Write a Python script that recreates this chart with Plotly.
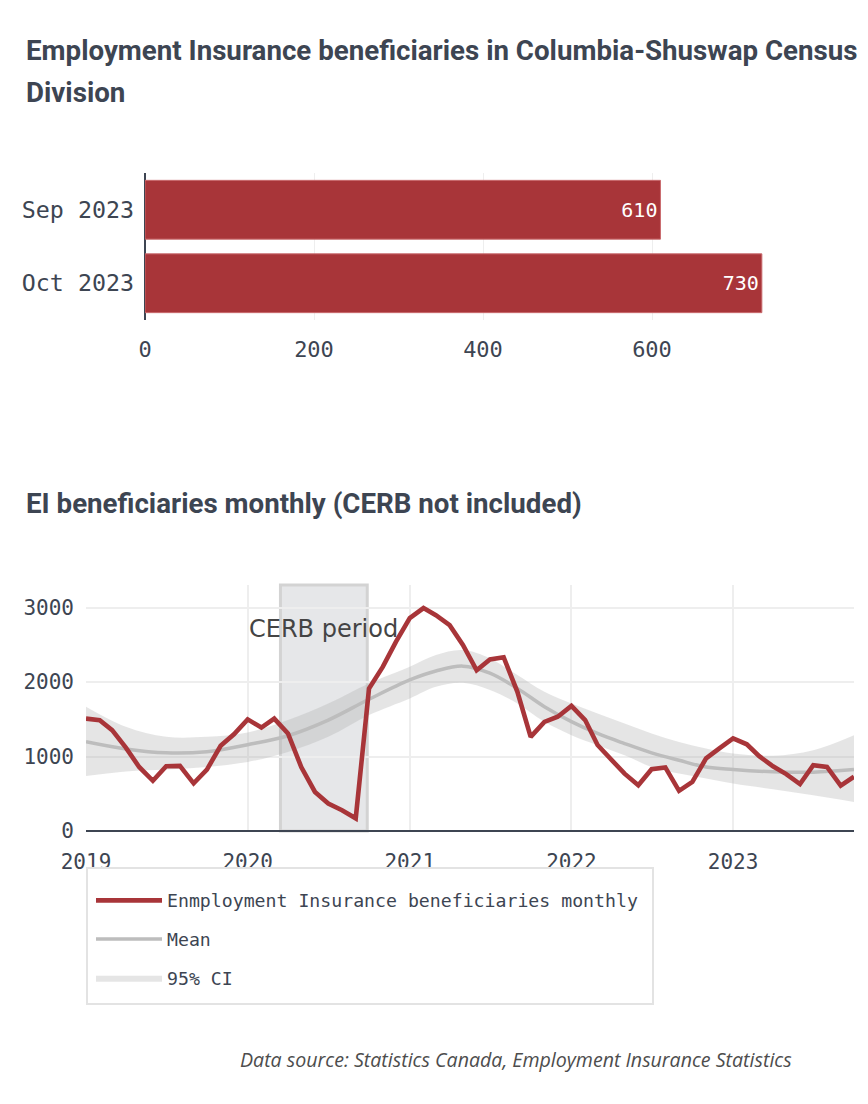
import plotly.graph_objects as go

W, H = 868, 1104
OFF = 8  # page body margin

# ---------------- data ----------------
bar_categories = ["Sep 2023", "Oct 2023"]
bar_values = [610, 730]

months = [f"{y}-{m:02d}-01" for y in range(2019, 2024) for m in range(1, 13)][:58]
ei_values = [
    1510, 1490, 1355, 1120, 860, 675, 870, 875, 640, 825, 1145, 1300,
    1500, 1390, 1510, 1310, 860, 525, 370, 280, 170, 1915, 2205, 2545,
    2860, 2995, 2900, 2765, 2500, 2160, 2305, 2335, 1870, 1265, 1465, 1535,
    1680, 1490, 1155, 950, 770, 615, 830, 855, 540, 660, 975, 1110,
    1245, 1165, 1005, 870, 765, 630, 885, 860, 610, 730,
]

trend_dates = [
    "2019-01-01", "2019-04-01", "2019-07-01", "2019-10-01",
    "2020-01-01", "2020-04-01", "2020-07-01", "2020-10-01",
    "2021-01-01", "2021-03-01", "2021-05-01", "2021-07-01", "2021-09-01", "2021-11-01",
    "2022-01-01", "2022-03-01", "2022-05-01", "2022-07-01", "2022-09-01", "2022-11-01",
    "2023-01-01", "2023-04-01", "2023-07-01", "2023-10-01",
]
mean_values = [
    1200, 1103, 1050, 1066,
    1160, 1280, 1490, 1770,
    2030, 2150, 2215, 2120, 1915, 1670,
    1470, 1310, 1175, 1050, 950, 860,
    826, 795, 790, 826,
]
ci_upper = [
    1670, 1400, 1265, 1265,
    1324, 1490, 1714, 1983,
    2206, 2364, 2431, 2319, 2095, 1870,
    1714, 1579, 1445, 1310, 1197, 1108,
    1041, 1012, 1086, 1288,
]
ci_lower = [
    740, 800, 826, 861,
    928, 1063, 1265, 1557,
    1781, 1937, 1991, 1893, 1714, 1467,
    1288, 1153, 1018, 861, 772, 705,
    637, 560, 480, 390,
]

cerb_start, cerb_end = "2020-03-15", "2020-09-27"
cerb_label_x, cerb_label_y = "2020-06-20", 2720

# ---------------- styles ----------------
RED = "#a83539"
TXT = "#3d4552"
GRID = "#eeeeee"
MONO = "DejaVu Sans Mono"
TITLE_FONT = "Roboto"

def px_x(p):
    return (p - OFF) / W

def px_y(p):
    return 1 - (p - OFF) / H

fig = go.Figure()

# Bar chart
fig.add_trace(go.Bar(
    x=bar_values, y=bar_categories, orientation="h",
    marker=dict(color=RED, line=dict(color="#c96a6d", width=1)),
    text=[str(v) for v in bar_values], textposition="inside",
    insidetextanchor="end",
    textfont=dict(family=MONO, size=20, color="white"),
    showlegend=False, hoverinfo="skip",
    xaxis="x", yaxis="y",
))

# Line chart: CI band
fig.add_trace(go.Scatter(
    x=trend_dates, y=ci_upper, mode="lines", line=dict(width=0, shape="spline"),
    showlegend=False, hoverinfo="skip", xaxis="x2", yaxis="y2",
))
fig.add_trace(go.Scatter(
    x=trend_dates, y=ci_lower, mode="lines", line=dict(width=0, shape="spline"),
    fill="tonexty", fillcolor="rgba(170,170,170,0.3)",
    name="95% CI", legendrank=3, legendgroup="c",
    hoverinfo="skip", xaxis="x2", yaxis="y2",
))
fig.add_trace(go.Scatter(
    x=trend_dates, y=mean_values, mode="lines",
    line=dict(color="#bdbdbd", width=3.5, shape="spline"),
    name="Mean", legendrank=2, legendgroup="b",
    xaxis="x2", yaxis="y2",
))
fig.add_trace(go.Scatter(
    x=months, y=ei_values, mode="lines",
    line=dict(color=RED, width=4.6),
    name="Enmployment Insurance beneficiaries monthly", legendrank=1, legendgroup="a",
    xaxis="x2", yaxis="y2",
))

tick_font = dict(family=MONO, size=23.3, color=TXT)
tick_font2 = dict(family=MONO, size=21, color=TXT)

fig.update_layout(
    width=W, height=H, autosize=False,
    margin=dict(l=0, r=0, t=0, b=0, pad=0, autoexpand=False),
    paper_bgcolor="white", plot_bgcolor="white",
    bargap=0.2,
    xaxis=dict(
        domain=[px_x(145), px_x(145 + 770 * 0.845)], range=[0, 770],
        tickvals=[0, 200, 400, 600], showgrid=True, gridcolor=GRID, gridwidth=1,
        zeroline=True, zerolinecolor=TXT, zerolinewidth=2,
        showline=False, ticks="", tickfont=dict(family=MONO, size=22, color=TXT),
        ticklabelstandoff=14,
        anchor="y", fixedrange=True, automargin=False,
    ),
    yaxis=dict(
        domain=[px_y(320), px_y(173)], autorange="reversed",
        showgrid=False, zeroline=False, showline=False, ticks="",
        tickfont=tick_font, ticklabelstandoff=10, anchor="x", fixedrange=True,
        automargin=False,
    ),
    xaxis2=dict(
        domain=[px_x(86), px_x(854)], range=["2019-01-01", "2023-10-01"],
        type="date", dtick="M12", tickformat="%Y",
        showgrid=True, gridcolor=GRID, gridwidth=2,
        zeroline=False, showline=False, ticks="",
        tickfont=tick_font2, ticklabelstandoff=16, anchor="y2", fixedrange=True,
        automargin=False,
    ),
    yaxis2=dict(
        domain=[px_y(831), px_y(585)], range=[0, 3305],
        tickvals=[0, 1000, 2000, 3000], showgrid=True, gridcolor=GRID, gridwidth=2,
        zeroline=True, zerolinecolor=TXT, zerolinewidth=2,
        showline=False, ticks="", tickfont=tick_font2, ticklabelstandoff=11,
        anchor="x2", fixedrange=True, automargin=False,
    ),
    legend=dict(
        x=px_x(91), y=px_y(882), xanchor="left", yanchor="top",
        bgcolor="rgba(0,0,0,0)", borderwidth=0,
        font=dict(family=MONO, size=18.2, color=TXT),
        itemwidth=66, tracegroupgap=12, traceorder="grouped",
    ),
    shapes=[
        dict(type="rect", xref="x2", yref="y2 domain", x0=cerb_start, x1=cerb_end,
             y0=0, y1=1, fillcolor="#e6e7e9", line=dict(color="#d3d3d3", width=3),
             layer="below"),
        dict(type="rect", xref="paper", yref="paper",
             x0=px_x(87), x1=px_x(653), y0=px_y(1004), y1=px_y(868),
             fillcolor="white", line=dict(color="#e3e3e3", width=2), layer="above"),
    ],
    annotations=[
        dict(text="<b>Employment Insurance beneficiaries in Columbia-Shuswap Census</b>",
             xref="paper", yref="paper", x=px_x(24), y=px_y(50),
             xanchor="left", yanchor="middle", showarrow=False,
             font=dict(family=TITLE_FONT, size=27.7, color=TXT)),
        dict(text="<b>Division</b>",
             xref="paper", yref="paper", x=px_x(24), y=px_y(92),
             xanchor="left", yanchor="middle", showarrow=False,
             font=dict(family=TITLE_FONT, size=27.7, color=TXT)),
        dict(text="<b>EI beneficiaries monthly (CERB not included)</b>",
             xref="paper", yref="paper", x=px_x(24), y=px_y(503),
             xanchor="left", yanchor="middle", showarrow=False,
             font=dict(family=TITLE_FONT, size=27.7, color=TXT)),
        dict(text="CERB period", xref="x2", yref="y2",
             x=cerb_label_x, y=cerb_label_y, showarrow=False,
             font=dict(family="DejaVu Sans", size=24, color="#444444")),
        dict(text="<i>Data source: Statistics Canada, Employment Insurance Statistics</i>",
             xref="paper", yref="paper", x=px_x(794), y=px_y(1059),
             xanchor="right", yanchor="middle", showarrow=False,
             font=dict(family="Open Sans", size=19.6, color="#4d4d4d")),
    ],
)

fig.write_html("out.html")
